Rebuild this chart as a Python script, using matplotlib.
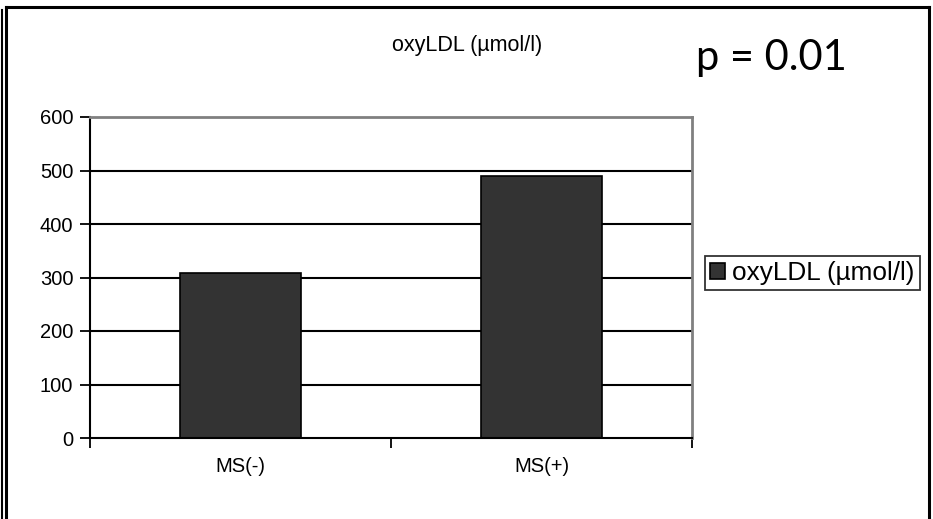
import matplotlib.pyplot as plt
from matplotlib.lines import Line2D

# Datos
grupos = ['MS(-)', 'MS(+)']
valores = [308, 490]
serie = 'oxyLDL (µmol/l)'
y_ticks = [0, 100, 200, 300, 400, 500, 600]

W, H = 933, 519
fig = plt.figure(figsize=(W / 100, H / 100), dpi=100)
plt.rcParams['font.family'] = ['Liberation Sans', 'DejaVu Sans']

ax = fig.add_axes([90 / W, (H - 438) / H, (692 - 90) / W, (438 - 117) / H])

# Lineas de cuadricula
for v in y_ticks[1:-1]:
    ax.axhline(v, color='black', lw=1.5, zorder=1)

x = range(len(grupos))
ax.bar(x, valores, width=0.4, color='#333333', edgecolor='black', lw=1.2,
       zorder=2, label=serie)

ax.set_xlim(-0.5, len(grupos) - 0.5)
ax.set_ylim(0, 600)
ax.set_yticks(y_ticks)
ax.set_yticklabels([str(v) for v in y_ticks], fontsize=14.5)
ax.set_xticks([-0.5, 0.5, 1.5])
ax.set_xticklabels([])
ax.set_xticks(list(x), minor=True)
ax.set_xticklabels(grupos, minor=True, fontsize=14.5)
ax.tick_params(axis='x', which='minor', length=0, pad=14)
ax.tick_params(axis='x', which='major', direction='out', length=7, width=1.3)
ax.tick_params(axis='y', direction='out', length=7, width=1.3, pad=5)

ax.spines['left'].set_color('black')
ax.spines['bottom'].set_color('black')
ax.spines['left'].set_linewidth(1.5)
ax.spines['bottom'].set_linewidth(1.5)
ax.spines['top'].set_color('#808080')
ax.spines['right'].set_color('#808080')
ax.spines['top'].set_linewidth(2)
ax.spines['right'].set_linewidth(2)

# Titulo y p-valor
fig.text(467 / W, 1 - 45 / H, serie, ha='center', va='center', fontsize=15.5)
fig.text(696 / W, 1 - 58 / H, 'p = 0.01', ha='left', va='center',
         fontsize=30, family=['Lato', 'DejaVu Sans'])

# Leyenda
leg = ax.legend(loc='center left', bbox_to_anchor=(705 / W, 1 - 273 / H),
                bbox_transform=fig.transFigure, fontsize=18.8, frameon=True,
                fancybox=False, edgecolor='black', handlelength=0.55,
                handleheight=0.55, handletextpad=0.3, borderpad=0.2,
                borderaxespad=0)
leg.get_frame().set_linewidth(1.3)

# Marco exterior
def linea(xs, ys, lw, color='black'):
    fig.add_artist(Line2D([v / W for v in xs], [1 - v / H for v in ys],
                          lw=lw, color=color, solid_capstyle='projecting'))

linea([1.5, 1.5], [10, 519], 1.5)
linea([6, 6], [7, 519], 2.2)
linea([6, 929], [7, 7], 2.2)
linea([929, 929], [7, 519], 2.2)

plt.savefig('out.png', dpi=100)
